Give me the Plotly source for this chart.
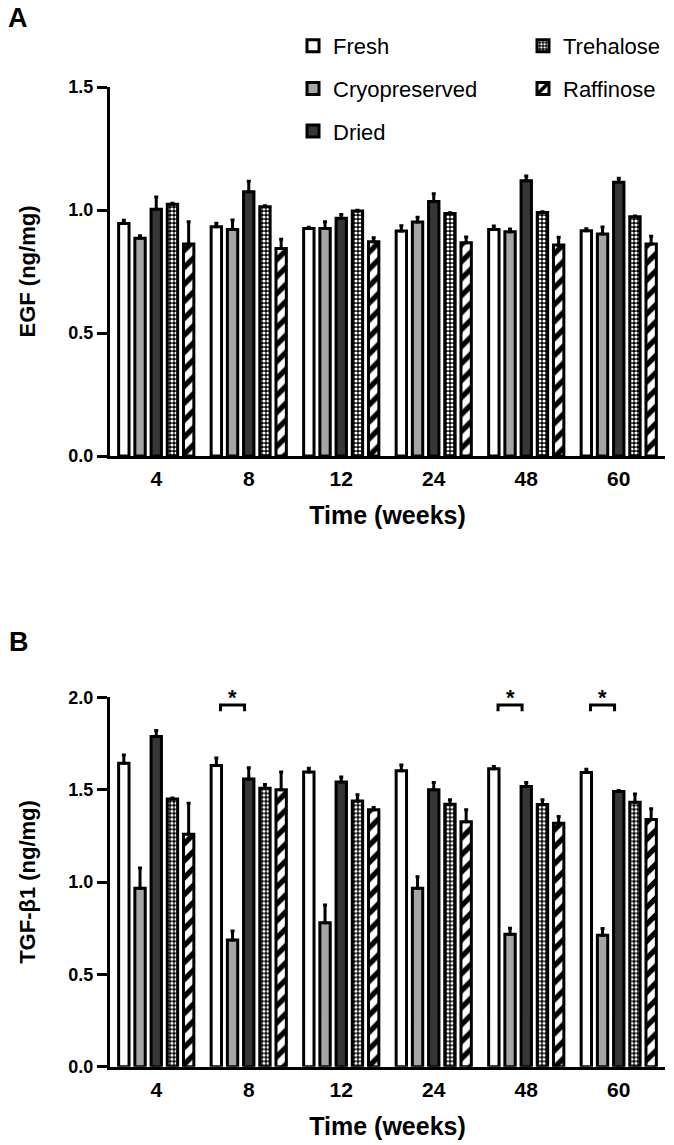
import plotly.graph_objects as go

# ---------------- data ----------------
weeks = ["4", "8", "12", "24", "48", "60"]
groups = ["Fresh", "Cryopreserved", "Dried", "Trehalose", "Raffinose"]

egf_fresh = [0.945, 0.932, 0.925, 0.915, 0.921, 0.916]
egf_fresh_err = [0.013, 0.014, 0.005, 0.021, 0.014, 0.008]
egf_cryo = [0.885, 0.921, 0.925, 0.951, 0.912, 0.902]
egf_cryo_err = [0.010, 0.038, 0.027, 0.020, 0.011, 0.029]
egf_dried = [1.003, 1.074, 0.966, 1.035, 1.119, 1.113]
egf_dried_err = [0.050, 0.043, 0.016, 0.031, 0.019, 0.016]
egf_treh = [1.023, 1.013, 0.996, 0.986, 0.990, 0.973]
egf_treh_err = [0.004, 0.004, 0.003, 0.003, 0.003, 0.003]
egf_raff = [0.862, 0.844, 0.871, 0.867, 0.858, 0.862]
egf_raff_err = [0.090, 0.037, 0.016, 0.023, 0.031, 0.031]

tgf_fresh = [1.643, 1.631, 1.595, 1.602, 1.613, 1.593]
tgf_fresh_err = [0.045, 0.041, 0.021, 0.032, 0.012, 0.018]
tgf_cryo = [0.966, 0.686, 0.780, 0.966, 0.717, 0.712]
tgf_cryo_err = [0.110, 0.049, 0.096, 0.062, 0.033, 0.036]
tgf_dried = [1.788, 1.557, 1.541, 1.499, 1.517, 1.490]
tgf_dried_err = [0.032, 0.061, 0.027, 0.040, 0.022, 0.005]
tgf_treh = [1.450, 1.508, 1.438, 1.421, 1.419, 1.432]
tgf_treh_err = [0.005, 0.020, 0.034, 0.024, 0.026, 0.045]
tgf_raff = [1.259, 1.499, 1.391, 1.326, 1.318, 1.339]
tgf_raff_err = [0.168, 0.096, 0.012, 0.065, 0.036, 0.058]

sig_weeks = ["8", "48", "60"]   # Fresh vs Cryopreserved, TGF-b1

# ---------------- styles ----------------
FONT = "Liberation Sans"
BARGAP = 0.124
BARGROUPGAP = 0.36
styles = {
    "Fresh": dict(color="white"),
    "Cryopreserved": dict(color="#a5a5a7"),
    "Dried": dict(color="#363636"),
    "Trehalose": dict(color="black", pattern=dict(shape=".", bgcolor="black", fgcolor="white",
                                                  size=4, solidity=0.5, fillmode="replace")),
    "Raffinose": dict(color="white", pattern=dict(shape="/", bgcolor="white", fgcolor="black",
                                                  size=12, solidity=0.45, fillmode="replace")),
}
legend_of = {"Fresh": "legend", "Cryopreserved": "legend", "Dried": "legend",
             "Trehalose": "legend2", "Raffinose": "legend2"}

xpos = list(range(len(weeks)))

fig = go.Figure()

panel_data = [
    ("x", "y", [egf_fresh, egf_cryo, egf_dried, egf_treh, egf_raff],
     [egf_fresh_err, egf_cryo_err, egf_dried_err, egf_treh_err, egf_raff_err], True),
    ("x2", "y2", [tgf_fresh, tgf_cryo, tgf_dried, tgf_treh, tgf_raff],
     [tgf_fresh_err, tgf_cryo_err, tgf_dried_err, tgf_treh_err, tgf_raff_err], False),
]

for xa, ya, vals, errs, show in panel_data:
    for g, v, e in zip(groups, vals, errs):
        st = styles[g]
        marker = dict(color=st["color"], line=dict(color="black", width=3))
        if "pattern" in st:
            marker["pattern"] = st["pattern"]
        fig.add_trace(go.Bar(
            x=xpos, y=v, name=g, xaxis=xa, yaxis=ya,
            marker=marker, showlegend=show, legend=legend_of[g], legendgroup=g,
            error_y=dict(type="data", symmetric=False, array=e, arrayminus=[0] * len(e),
                         color="black", thickness=3, width=2),
        ))

# significance brackets (Fresh vs Cryopreserved)
slot = (1 - BARGAP) / len(groups)
cryo_off = -(1 - BARGAP) / 2 + slot * 1.5
shapes = []
annotations = []
for w in sig_weeks:
    c = weeks.index(w) + cryo_off
    shapes.append(dict(type="path", xref="x2", yref="y2",
                       path=f"M {c-0.13},1.925 L {c-0.13},1.958 L {c+0.13},1.958 L {c+0.13},1.925",
                       line=dict(color="black", width=3)))
    annotations.append(dict(x=c, y=2.0, xref="x2", yref="y2", text="*", showarrow=False,
                            font=dict(family=FONT, size=22, color="black", weight="bold"),
                            yanchor="middle"))

# panel letters
annotations.append(dict(x=6 / 674, y=1 - 18 / 1145, xref="paper", yref="paper", text="A",
                        showarrow=False, xanchor="left", yanchor="middle",
                        font=dict(family=FONT, size=27, color="black", weight="bold")))
annotations.append(dict(x=7 / 674, y=1 - 642 / 1145, xref="paper", yref="paper", text="B",
                        showarrow=False, xanchor="left", yanchor="middle",
                        font=dict(family=FONT, size=27, color="black", weight="bold")))

xdom = [110 / 674, 665 / 674]
common_x = dict(domain=xdom, range=[-0.5, len(weeks) - 0.5], tickvals=xpos, ticktext=weeks,
                showline=True, linecolor="black", linewidth=3, ticks="", showgrid=False,
                zeroline=False, automargin=False,
                tickfont=dict(family=FONT, size=21, color="black", weight="bold"),
                ticklabelstandoff=2,
                title=dict(text="Time (weeks)", standoff=18,
                           font=dict(family=FONT, size=25, color="black", weight="bold")))
common_y = dict(showline=True, linecolor="black", linewidth=3, ticks="outside", ticklen=10,
                tickwidth=3, tickcolor="black", showgrid=False, zeroline=False, automargin=False,
                tickfont=dict(family=FONT, size=18, color="black", weight="bold"),
                tickformat=".1f")

fig.update_layout(
    width=674, height=1145,
    margin=dict(l=0, r=0, t=0, b=0, autoexpand=False),
    paper_bgcolor="white", plot_bgcolor="white",
    barmode="group", bargap=BARGAP, bargroupgap=BARGROUPGAP,
    xaxis=dict(common_x, anchor="y"),
    yaxis=dict(common_y, domain=[(1145 - 456) / 1145, (1145 - 87) / 1145], range=[0, 1.5],
               dtick=0.5, anchor="x",
               title=dict(text="EGF (ng/mg)", standoff=27,
                          font=dict(family=FONT, size=22, color="black", weight="bold"))),
    xaxis2=dict(common_x, anchor="y2"),
    yaxis2=dict(common_y, domain=[(1145 - 1066.7) / 1145, (1145 - 697.3) / 1145], range=[0, 2.0],
                dtick=0.5, anchor="x2",
                title=dict(text="TGF-β1 (ng/mg)", standoff=27,
                           font=dict(family=FONT, size=22, color="black", weight="bold"))),
    legend=dict(x=293 / 674, y=1 - 25 / 1145, xanchor="left", yanchor="top",
                font=dict(family=FONT, size=22, color="black"), tracegroupgap=11,
                bgcolor="rgba(0,0,0,0)", itemclick=False),
    legend2=dict(x=523 / 674, y=1 - 25 / 1145, xanchor="left", yanchor="top",
                 font=dict(family=FONT, size=22, color="black"), tracegroupgap=11,
                 bgcolor="rgba(0,0,0,0)", itemclick=False),
    shapes=shapes,
    annotations=annotations,
    showlegend=True,
)

fig.write_html("out.html", config={"displayModeBar": False},
               post_script="document.body.style.margin='0';document.body.style.overflow='hidden';")
